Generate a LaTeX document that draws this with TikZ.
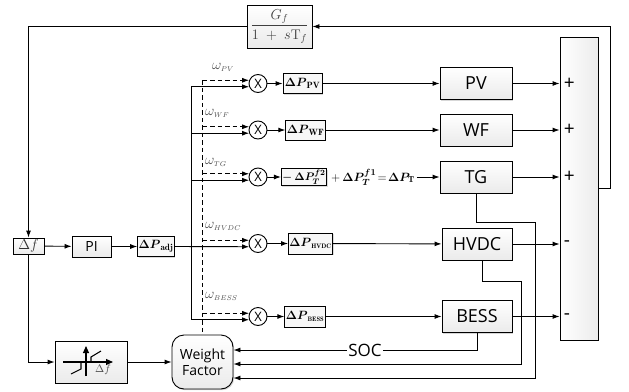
\documentclass[tikz,border=0pt]{standalone}
\usepackage{amsmath}
\usepackage{amssymb}
\usepackage{fontspec}
\setsansfont{Open Sans}
\usepackage{tikz}
\usetikzlibrary{calc, arrows.meta, shadows}

\tikzset{
    blk/.style={draw, line width=0.9pt, top color=white, bottom color=gray!16,
        drop shadow={shadow xshift=1.2pt, shadow yshift=-1.2pt, fill=gray!70, opacity=0.45},
        inner sep=0pt, font=\sffamily\fontsize{18}{18}\selectfont},
    dpbox/.style={draw, line width=0.9pt, fill=gray!6,
        drop shadow={shadow xshift=1pt, shadow yshift=-1pt, fill=gray!70, opacity=0.4},
        inner sep=1pt, minimum height=20pt, font=\fontsize{13}{13}\selectfont},
    mult/.style={circle, draw, line width=0.9pt, fill=white, minimum size=18pt,
        inner sep=0pt, font=\sffamily\fontsize{13}{13}\selectfont},
    arr/.style={-{Latex[length=7pt,width=5pt]}, line width=0.9pt},
    dsh/.style={line width=0.9pt, dash pattern=on 4.5pt off 3pt},
    wlab/.style={anchor=west, inner sep=0pt, text=black!70, font=\fontsize{14}{14}\selectfont},
    sgn/.style={anchor=west, inner sep=0pt, font=\sffamily\fontsize{19}{19}\selectfont}
}

\begin{document}
\begin{tikzpicture}[x=1pt, y=-1pt]
    \useasboundingbox (0,0) rectangle (629,391);

    \node[blk, minimum width=65pt, minimum height=43pt, font=\fontsize{14}{14}\selectfont, text=black!75] (gf) at (279.5,26.5) {$\dfrac{G_{f}}{1\;+\;s\mathrm{T}_{f}}$};
    \node[blk, left color=white, right color=gray!15, minimum width=38pt, minimum height=303pt] (sum) at (579,188.5) {};

    \node[blk, minimum width=72pt, minimum height=32pt] (pv) at (476,83.5) {PV};
    \node[blk, minimum width=72pt, minimum height=32pt] (wf) at (476,130) {WF};
    \node[blk, minimum width=72pt, minimum height=32pt] (tg) at (476,177) {TG};
    \node[blk, minimum width=70pt, minimum height=32pt] (hvdc) at (477,244) {HVDC};
    \node[blk, minimum width=70pt, minimum height=32pt] (bess) at (477,316.5) {BESS};

    \node[mult] (mpv) at (258,83.5) {X};
    \node[mult] (mwf) at (258,130) {X};
    \node[mult] (mtg) at (258,177) {X};
    \node[mult] (mhvdc) at (258,243.5) {X};
    \node[mult] (mbess) at (258,316.5) {X};

    \node[dpbox, minimum width=39pt] (dpv) at (302.5,83.5) {$\boldsymbol{\Delta P}_{\mathbf{PV}}$};
    \node[dpbox, minimum width=37pt] (dwf) at (305.5,130) {$\boldsymbol{\Delta P}_{\mathbf{WF}}$};
    \node[dpbox, minimum width=38pt, minimum height=17pt, font=\fontsize{11}{11}\selectfont] (dtg) at (304,177) {$\boldsymbol{-\,\Delta P_{T}^{f2}}$};
    \node[dpbox, minimum width=37pt, minimum height=21pt] (dhvdc) at (310.5,243.5) {$\boldsymbol{\Delta P}_{\scriptscriptstyle\mathbf{HVDC}}$};
    \node[dpbox, minimum width=38pt, minimum height=21pt] (dbess) at (305,316.5) {$\boldsymbol{\Delta P}_{\scriptscriptstyle\mathbf{BESS}}$};
    \node[anchor=west, inner sep=0pt, font=\fontsize{12.5}{12.5}\selectfont] (tgsum) at ([xshift=4pt]dtg.east) {$+\,\boldsymbol{\Delta P_{T}^{f1}}\!=\!\boldsymbol{\Delta P_{\mathrm{T}}}$};

    \node[blk, minimum width=31pt, minimum height=16pt, font=\fontsize{14}{14}\selectfont, text=black!80] (df) at (28.5,246) {$\Delta f$};
    \node[blk, minimum width=39pt, minimum height=21pt, font=\sffamily\fontsize{14}{14}\selectfont] (pi) at (91.5,246.5) {PI};
    \node[dpbox, minimum width=34pt] (adj) at (156,246.5) {$\boldsymbol{\Delta P}_{\mathbf{adj}}$};
    \node[blk, minimum width=72pt, minimum height=42pt] (db) at (91,362) {};
    \node[blk, rounded corners=12pt, minimum width=61pt, minimum height=54pt, align=center, font=\sffamily\fontsize{14}{16}\selectfont] (wfac) at (202.5,362) {Weight\\Factor};

    \begin{scope}[shift={(db.center)}, line width=1.1pt]
        \draw[-{Triangle[length=7pt,width=6pt]}] (-28,0) -- (22,0);
        \draw[-{Triangle[length=7pt,width=6pt]}] (-5,14) -- (-5,-16);
        \draw (-20,12) -- (-10,7) -- (-10,0);
        \draw (0,0) -- (0,-5) -- (10,-11);
        \node[inner sep=0pt, text=black!70, font=\fontsize{11}{11}\selectfont] at (12,8) {$\Delta f$};
    \end{scope}

    \coordinate (trunk) at (191,0);

    \node[wlab] at (212,67) {$\omega_{\scriptscriptstyle PV}$};
    \node[wlab] at (205,113) {$\omega_{\scriptscriptstyle WF}$};
    \node[wlab] at (205,162) {$\omega_{\scriptscriptstyle TG}$};
    \node[wlab] at (205,226) {$\omega_{\scriptscriptstyle HVDC}$};
    \node[wlab] at (205,296) {$\omega_{\scriptscriptstyle BESS}$};

    \draw[arr] (gf.west) -| (df.north);
    \draw[arr] (df) -- (pi);
    \draw[arr] (pi) -- (adj);
    \draw[arr] (df.south) |- (db.west);
    \draw[arr] (db.east) -- (wfac.west);
    \draw[arr] (sum.east) -- ++(12,0) |- (gf.east);

    \draw[line width=0.9pt] (mpv.200 -| trunk) -- (mbess.200 -| trunk);
    \draw[dsh] (mpv.160 -| wfac.north) -- (wfac.north);
    \foreach \m in {mpv,mwf,mtg,mbess} {
        \draw[arr] (\m.200 -| trunk) -- (\m.200);
    }
    \draw[arr] (adj.east) -- (mhvdc.200);
    \foreach \m in {mpv,mwf,mtg,mhvdc,mbess} {
        \draw[arr, dsh] (\m.160 -| wfac.north) -- (\m.160);
    }

    \draw[arr] (mpv) -- (dpv);
    \draw[arr] (mwf) -- (dwf);
    \draw[arr] (mtg) -- (dtg);
    \draw[arr] (mhvdc) -- (dhvdc);
    \draw[arr] (mbess) -- (dbess);

    \draw[arr] (dpv) -- (pv);
    \draw[arr] (dwf) -- (wf);
    \draw[arr] ([xshift=2pt]tgsum.east) -- (tg);
    \draw[arr] (dhvdc) -- (hvdc);
    \draw[arr] (dbess) -- (bess);

    \foreach \b/\s in {pv/+,wf/+,tg/+,hvdc/-,bess/-} {
        \draw[arr] (\b.east) -- (\b.east -| sum.west);
        \node[sgn] at ([xshift=4pt]\b.east -| sum.west) {\s};
    }

    \draw[arr] (bess.south) |- node[pos=0.73, fill=white, inner sep=1pt, font=\sffamily\fontsize{17}{17}\selectfont] {SOC} ([yshift=12pt]wfac.east);
    \draw[arr] ([xshift=5pt]hvdc.south) |- ++(39,21) |- ([yshift=-2pt]wfac.east);
    \draw[arr] (tg.south) |- ++(59,29) |- ([yshift=-16pt]wfac.east);
\end{tikzpicture}
\end{document}
